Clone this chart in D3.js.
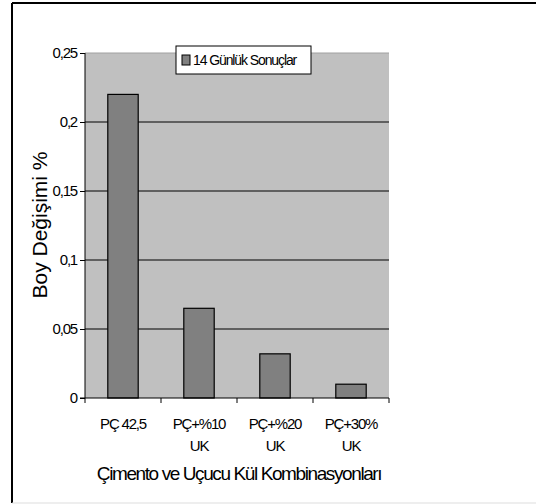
<!DOCTYPE html>
<html>
<head>
<meta charset="utf-8">
<title>Boy Değişimi</title>
<style>
body { margin: 0; background: #fff; }
svg { display: block; font-family: 'Liberation Sans', Arial, sans-serif; }
.tick text { font-size: 15px; letter-spacing: -1.2px; fill: #000; }
</style>
</head>
<body>
<svg></svg>
<script src="https://d3js.org/d3.v7.min.js"></script>
<script>
const categories = [['PÇ 42,5'], ['PÇ+%10', 'UK'], ['PÇ+%20', 'UK'], ['PÇ+30%', 'UK']];
const values = [0.22, 0.065, 0.032, 0.01];
const yTicks = [0, 0.05, 0.1, 0.15, 0.2, 0.25];
const seriesName = '14 Günlük Sonuçlar';

const W = 536, H = 504;
const plot = { left: 85, right: 389, top: 53, bottom: 398 };

const svg = d3.select('svg').attr('width', W).attr('height', H);

// outer frame
svg.append('line').attr('x1', 12).attr('x2', 12).attr('y1', 3).attr('y2', 503).attr('stroke', '#000').attr('stroke-width', 2);
svg.append('line').attr('x1', 12).attr('x2', 536).attr('y1', 3).attr('y2', 3).attr('stroke', '#000').attr('stroke-width', 2);
svg.append('line').attr('x1', 12).attr('x2', 536).attr('y1', 503).attr('y2', 503).attr('stroke', '#ddd');

const x = d3.scaleBand(d3.range(categories.length), [plot.left, plot.right]).paddingInner(0.6).paddingOuter(0.3);
const xb = d3.scaleLinear([0, categories.length], [plot.left, plot.right]);
const y = d3.scaleLinear([0, 0.25], [plot.bottom, plot.top]);

svg.append('rect')
   .attr('x', plot.left).attr('y', plot.top)
   .attr('width', plot.right - plot.left).attr('height', plot.bottom - plot.top)
   .attr('fill', '#c0c0c0');

svg.append('line')
   .attr('x1', plot.left).attr('x2', plot.right)
   .attr('y1', y(0.25)).attr('y2', y(0.25))
   .attr('stroke', '#a0a0a0');

svg.append('g').selectAll('line')
   .data(yTicks.filter(d => d > 0 && d < 0.25))
   .join('line')
   .attr('x1', plot.left).attr('x2', plot.right)
   .attr('y1', d => y(d)).attr('y2', d => y(d))
   .attr('stroke', '#000');

svg.append('g').selectAll('rect')
   .data(values)
   .join('rect')
   .attr('x', (d, i) => x(i))
   .attr('width', x.bandwidth())
   .attr('y', d => y(d))
   .attr('height', d => y(0) - y(d))
   .attr('fill', '#808080')
   .attr('stroke', '#000')
   .attr('stroke-width', 1.2);

const fmt = d => String(d).replace('.', ',');

const ya = svg.append('g')
   .attr('transform', `translate(${plot.left},0)`)
   .call(d3.axisLeft(y).tickValues(yTicks).tickFormat(fmt).tickSize(5).tickPadding(3));
ya.select('.domain').attr('d', `M0,${plot.top}V${plot.bottom}`).attr('stroke', '#000');
ya.selectAll('.tick line').attr('stroke', '#000');

// bottom axis with ticks at category boundaries
const xa = svg.append('g');
xa.append('line')
  .attr('x1', plot.left - 5).attr('x2', plot.right)
  .attr('y1', plot.bottom).attr('y2', plot.bottom)
  .attr('stroke', '#000');
xa.selectAll('line.t')
  .data(d3.range(categories.length + 1))
  .join('line').attr('class', 't')
  .attr('x1', d => xb(d)).attr('x2', d => xb(d))
  .attr('y1', plot.bottom).attr('y2', plot.bottom + 5)
  .attr('stroke', '#000');

const lab = svg.append('g').selectAll('text')
   .data(categories)
   .join('text')
   .attr('x', (d, i) => x(i) + x.bandwidth() / 2)
   .attr('y', 429)
   .attr('text-anchor', 'middle')
   .style('font-size', '15px')
   .style('letter-spacing', '-1.2px');
lab.selectAll('tspan')
   .data(d => d)
   .join('tspan')
   .attr('x', function() { return this.parentNode.getAttribute('x'); })
   .attr('dy', (d, i) => i ? 22 : 0)
   .text(d => d);

svg.append('text')
   .attr('x', 239).attr('y', 480)
   .attr('text-anchor', 'middle')
   .style('font-size', '19px')
   .style('letter-spacing', '-1.4px')
   .text('Çimento ve Uçucu Kül Kombinasyonları');

svg.append('text')
   .attr('transform', 'translate(47,225) rotate(-90)')
   .attr('text-anchor', 'middle')
   .style('font-size', '21px')
   .text('Boy Değişimi %');

// legend
const lg = svg.append('g').attr('transform', 'translate(176,46)');
lg.append('rect').attr('width', 135).attr('height', 28).attr('fill', '#fff').attr('stroke', '#000');
lg.append('rect').attr('x', 6).attr('y', 9).attr('width', 8).attr('height', 10)
  .attr('fill', '#808080').attr('stroke', '#000');
lg.append('text').attr('x', 17).attr('y', 19)
  .style('font-size', '14px').style('letter-spacing', '-1.1px')
  .text(seriesName);
</script>
</body>
</html>
